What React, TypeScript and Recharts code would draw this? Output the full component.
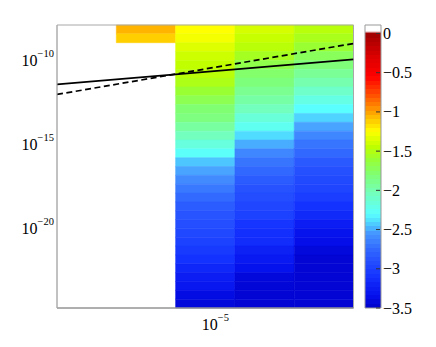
import React from 'react';
import { ComposedChart, XAxis, YAxis, Line, ReferenceArea } from 'recharts';

// ---------- data ----------
// column edges along x (log10 units)
const X_EDGES = [-7.67, -6.67, -5.67, -4.67, -3.67, -2.67];
// y range (log10 units) and number of rows of the grid
const Y_MIN = -24.76;
const Y_MAX = -7.905;
const ROW_COUNT = 32;

// cell values (log10), listed from the top row down; column 1 is empty
const col2Values = [-1.05, -1.12];
const col3Values = [
  -1.25, -1.28, -1.35, -1.4, -1.44, -1.47, -1.52, -1.6, -1.7, -1.8, -1.84, -1.95,
  -2.05, -2.17, -2.28, -2.45, -2.52, -2.6, -2.68, -2.75, -2.82, -2.87, -2.91, -2.95,
  -3.0, -3.05, -3.1, -3.18, -3.25, -3.3, -3.38, -3.42,
];
const col4Values = [
  -1.38, -1.42, -1.47, -1.55, -1.68, -1.78, -1.83, -1.9, -1.97, -2.05, -2.15, -2.25,
  -2.4, -2.5, -2.62, -2.7, -2.76, -2.82, -2.88, -2.92, -2.96, -3.0, -3.08, -3.12,
  -3.14, -3.22, -3.28, -3.33, -3.42, -3.44, -3.45, -3.45,
];
const col5Values = [
  -1.48, -1.53, -1.6, -1.73, -1.82, -1.92, -2.0, -2.1, -2.2, -2.3, -2.42, -2.52,
  -2.62, -2.7, -2.76, -2.84, -2.9, -2.94, -2.97, -3.03, -3.1, -3.16, -3.25, -3.32,
  -3.36, -3.42, -3.45, -3.45, -3.45, -3.45, -3.45, -3.45,
];
const columns: (number[] | null)[] = [null, col2Values, col3Values, col4Values, col5Values];

// power-law lines (log10 x, log10 y at both ends)
const lineX = [-7.67, -2.67];
const solidY = [-11.446, -9.958];
const dashedY = [-12.042, -9.006];

// ticks
const xTicks = [-5];
const yTicks = [-20, -15, -10];
const cbTicks = [-3.5, -3, -2.5, -2, -1.5, -1, -0.5, 0];
const CB_MIN = -3.5;
const CB_MAX = 0.108;

// ---------- colour map ----------
const CMAP: [number, number, number, number][] = [
  [-3.5, 0, 0, 200],
  [-3.35, 5, 15, 235],
  [-3.1, 20, 50, 255],
  [-2.8, 45, 95, 255],
  [-2.55, 70, 150, 255],
  [-2.4, 80, 220, 255],
  [-2.3, 90, 255, 255],
  [-2.05, 115, 255, 190],
  [-1.8, 128, 255, 115],
  [-1.6, 153, 255, 50],
  [-1.45, 190, 255, 0],
  [-1.25, 255, 255, 0],
  [-1.1, 255, 200, 0],
  [-1.0, 255, 160, 0],
  [-0.8, 255, 85, 0],
  [-0.55, 255, 0, 0],
  [-0.3, 220, 0, 0],
  [0.0, 160, 0, 0],
  [0.03, 150, 0, 0],
];

function colorFor(v: number): string {
  if (v > 0.03) return '#ffffff';
  if (v <= CMAP[0][0]) return `rgb(${CMAP[0][1]},${CMAP[0][2]},${CMAP[0][3]})`;
  for (let i = 0; i < CMAP.length - 1; i++) {
    const a = CMAP[i];
    const b = CMAP[i + 1];
    if (v >= a[0] && v <= b[0]) {
      const t = (v - a[0]) / (b[0] - a[0]);
      const r = Math.round(a[1] + (b[1] - a[1]) * t);
      const g = Math.round(a[2] + (b[2] - a[2]) * t);
      const bl = Math.round(a[3] + (b[3] - a[3]) * t);
      return `rgb(${r},${g},${bl})`;
    }
  }
  const l = CMAP[CMAP.length - 1];
  return `rgb(${l[1]},${l[2]},${l[3]})`;
}

// ---------- derived ----------
const ROW_H = (Y_MAX - Y_MIN) / ROW_COUNT;
type Cell = { x1: number; x2: number; y1: number; y2: number; v: number };
const cells: Cell[] = [];
columns.forEach((vals, c) => {
  if (!vals) return;
  vals.forEach((v, r) => {
    cells.push({
      x1: X_EDGES[c],
      x2: X_EDGES[c + 1],
      y1: Y_MAX - (r + 1) * ROW_H,
      y2: Y_MAX - r * ROW_H,
      v,
    });
  });
});

const lineData = lineX.map((x, i) => ({ x, solid: solidY[i], dashed: dashedY[i] }));

const FONT = '"Liberation Serif", "DejaVu Serif", serif';
const minus = (n: number) => (n < 0 ? '\u2212' + String(Math.abs(n)) : String(n));

const YTick = (props: any) => {
  const { x, y, payload } = props;
  return (
    <text x={x - 3} y={y + 6} textAnchor="end" fontFamily={FONT} fill="#000">
      <tspan fontSize={16}>10</tspan>
      <tspan fontSize={10.5} dy={-9}>{minus(payload.value)}</tspan>
    </text>
  );
};

const XTick = (props: any) => {
  const { x, y, payload } = props;
  return (
    <text x={x} y={y + 22} textAnchor="middle" fontFamily={FONT} fill="#000">
      <tspan fontSize={16}>10</tspan>
      <tspan fontSize={10.5} dy={-9}>{minus(payload.value)}</tspan>
    </text>
  );
};

const CbTick = (props: any) => {
  const { x, y, payload } = props;
  return (
    <g>
      <line x1={x - 5} x2={x - 1} y1={y} y2={y} stroke="#333" strokeWidth={1} />
      <text x={x + 2} y={y + 5.5} textAnchor="start" fontFamily={FONT} fontSize={16} fill="#000">
        {minus(payload.value)}
      </text>
    </g>
  );
};

// banded gradient for the colour bar
const BANDS = 64;
const bandStops: { off: number; col: string }[] = [];
{
  const span = CB_MAX - CB_MIN;
  const step = 3.5 / BANDS;
  // top white piece
  bandStops.push({ off: 0, col: '#ffffff' });
  bandStops.push({ off: (CB_MAX - 0.03) / span, col: '#ffffff' });
  for (let k = BANDS; k >= 1; k--) {
    const top = Math.min(CB_MIN + k * step, 0.03);
    const bot = CB_MIN + (k - 1) * step;
    const col = colorFor((top + bot) / 2);
    bandStops.push({ off: (CB_MAX - top) / span, col });
    bandStops.push({ off: (CB_MAX - bot) / span, col });
  }
}

export default function App() {
  return (
    <div style={{ position: 'absolute', left: 0, top: 0, width: 436, height: 347, background: '#fff' }}>
      <div style={{ position: 'absolute', left: 0, top: 0 }}>
        <ComposedChart
          width={436}
          height={347}
          data={lineData}
          margin={{ top: 25, right: 82.5, bottom: 0, left: 0 }}
        >
          <XAxis
            dataKey="x"
            type="number"
            domain={[X_EDGES[0], X_EDGES[X_EDGES.length - 1]]}
            ticks={xTicks}
            interval={0}
            allowDataOverflow
            height={39}
            tickSize={0}
            tickMargin={0}
            tickLine={false}
            axisLine={{ stroke: '#8a8a8a' }}
            tick={<XTick />}
          />
          <YAxis
            type="number"
            domain={[Y_MIN, Y_MAX]}
            ticks={yTicks}
            interval={0}
            allowDataOverflow
            width={57}
            tickSize={0}
            tickMargin={0}
            tickLine={false}
            axisLine={{ stroke: '#b0b0b0' }}
            tick={<YTick />}
          />
          {cells.map((c, i) => {
            const col = colorFor(c.v);
            return (
              <ReferenceArea
                key={i}
                x1={c.x1}
                x2={c.x2}
                y1={c.y1}
                y2={c.y2}
                fill={col}
                fillOpacity={1}
                stroke={col}
                strokeWidth={0.5}
                ifOverflow="visible"
              />
            );
          })}
          <ReferenceArea
            x1={X_EDGES[0]}
            x2={X_EDGES[X_EDGES.length - 1]}
            y1={Y_MIN}
            y2={Y_MAX}
            fill="none"
            fillOpacity={0}
            stroke="#a8a8a8"
            strokeWidth={1}
            ifOverflow="visible"
          />
          <Line
            dataKey="solid"
            type="linear"
            stroke="#000"
            strokeWidth={1.7}
            dot={false}
            activeDot={false}
            isAnimationActive={false}
          />
          <Line
            dataKey="dashed"
            type="linear"
            stroke="#000"
            strokeWidth={1.7}
            strokeDasharray="6 3.5"
            dot={false}
            activeDot={false}
            isAnimationActive={false}
          />
        </ComposedChart>
      </div>
      <div style={{ position: 'absolute', left: 0, top: 0 }}>
        <ComposedChart
          width={436}
          height={347}
          data={[{ x: 0 }, { x: 1 }]}
          margin={{ top: 25, right: 0, bottom: 39, left: 365 }}
        >
          <defs>
            <linearGradient id="cbGrad" x1="0" y1="0" x2="0" y2="1">
              {bandStops.map((s, i) => (
                <stop key={i} offset={s.off} stopColor={s.col} />
              ))}
            </linearGradient>
          </defs>
          <XAxis dataKey="x" type="number" domain={[0, 1]} hide />
          <YAxis
            orientation="right"
            type="number"
            domain={[CB_MIN, CB_MAX]}
            ticks={cbTicks}
            interval={0}
            allowDataOverflow
            width={55}
            tickSize={0}
            tickMargin={0}
            tickLine={false}
            axisLine={false}
            tick={<CbTick />}
          />
          <ReferenceArea
            x1={0}
            x2={1}
            y1={CB_MIN}
            y2={CB_MAX}
            fill="url(#cbGrad)"
            fillOpacity={1}
            stroke="#999"
            strokeWidth={1}
            ifOverflow="visible"
          />
        </ComposedChart>
      </div>
    </div>
  );
}
